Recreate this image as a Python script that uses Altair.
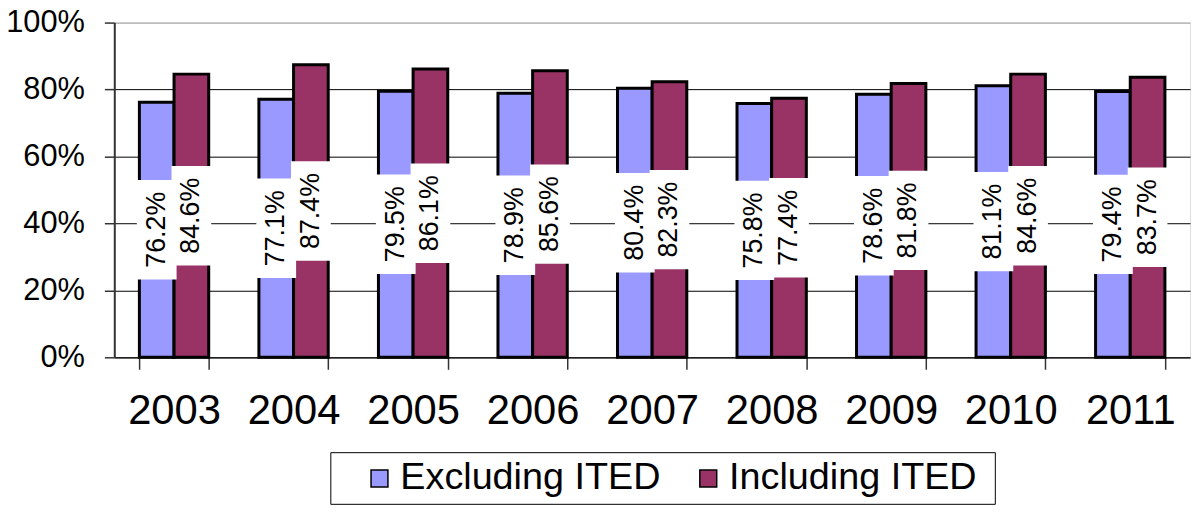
import altair as alt
import pandas as pd

years = ["2003", "2004", "2005", "2006", "2007", "2008", "2009", "2010", "2011"]
series = ["Excluding ITED", "Including ITED"]
excluding = [76.2, 77.1, 79.5, 78.9, 80.4, 75.8, 78.6, 81.1, 79.4]
including = [84.6, 87.4, 86.1, 85.6, 82.3, 77.4, 81.8, 84.6, 83.7]
colors = ["#9999FF", "#993366"]
y_ticks = [0, 20, 40, 60, 80, 100]

rows = []
for i, yr in enumerate(years):
    rows.append({"year": yr, "series": series[0], "value": excluding[i]})
    rows.append({"year": yr, "series": series[1], "value": including[i]})
df = pd.DataFrame(rows)

FONT = "Liberation Sans"

x_enc = alt.X(
    "year:N",
    sort=years,
    title=None,
    scale=alt.Scale(paddingInner=0.42, paddingOuter=0.21),
    axis=alt.Axis(
        labelFontSize=42,
        labelFont=FONT,
        labelColor="black",
        labelAngle=0,
        labelPadding=22,
        tickBand="extent",
        tickSize=12,
        tickColor="#333333",
        tickWidth=1.5,
        domainColor="#222222",
        domainWidth=1.5,
        grid=False,
    ),
)
xoff_enc = alt.XOffset(
    "series:N",
    sort=series,
    scale=alt.Scale(domain=series, paddingInner=0, paddingOuter=0),
)
y_enc = alt.Y(
    "value:Q",
    title=None,
    scale=alt.Scale(domain=[0, 100], nice=False),
    axis=alt.Axis(
        values=y_ticks,
        labelExpr="datum.value + '%'",
        labelFontSize=31,
        labelFont=FONT,
        labelColor="black",
        labelPadding=20,
        tickSize=10,
        tickColor="#333333",
        tickWidth=1.5,
        domainColor="#333333",
        domainWidth=2,
        grid=True,
        gridColor={"condition": {"test": "datum.value >= 100", "value": "#999999"}, "value": "#000000"},
        gridWidth=1,
    ),
)

base = alt.Chart(df)

bars = base.mark_bar(stroke="black", strokeWidth=3).encode(
    x=x_enc,
    xOffset=xoff_enc,
    y=y_enc,
    color=alt.Color(
        "series:N",
        sort=series,
        scale=alt.Scale(domain=series, range=colors),
        legend=alt.Legend(
            title=None,
            orient="none",
            legendX=248,
            legendY=440,
            direction="horizontal",
            symbolType="square",
            symbolSize=289,
            symbolStrokeColor="black",
            symbolStrokeWidth=1.5,
            symbolOpacity=1,
            labelFontSize=38,
            labelFont=FONT,
            labelColor="black",
            labelOffset=2,
            columnPadding=29,
            padding=0,
            labelLimit=400,
        ),
    ),
)

mid = base.transform_calculate(
    mid="datum.value / 2",
    label="format(datum.value, '.1f') + '%'",
)

boxes = mid.mark_point(
    shape="M-0.4,-1H0.4V1H-0.4Z",
    size=10000,
    filled=True,
    fill="white",
    stroke=None,
    opacity=1,
).encode(
    x=alt.X("year:N", sort=years),
    xOffset=alt.XOffset("series:N", sort=series),
    y=alt.Y("mid:Q"),
)

labels = mid.mark_text(
    angle=270,
    align="center",
    baseline="middle",
    fontSize=27,
    font=FONT,
    color="black",
).encode(
    x=alt.X("year:N", sort=years),
    xOffset=alt.XOffset("series:N", sort=series),
    y=alt.Y("mid:Q"),
    text="label:N",
)

frame = alt.Chart(pd.DataFrame({"k": [0]})).mark_rect(
    fillOpacity=0, stroke="black", strokeWidth=1
).encode(
    x=alt.value(218), x2=alt.value(887), y=alt.value(433), y2=alt.value(485)
)

chart = (
    alt.layer(bars, boxes, labels, frame)
    .properties(
        width=1083,
        height=337,
        autosize=alt.AutoSizeParams(type="none"),
        padding={"left": 107, "top": 13, "right": 1, "bottom": 147},
    )
    .configure_view(stroke=None)
    .configure(background="white")
)

chart.save("out.html", embed_options={"renderer": "svg", "actions": False})
